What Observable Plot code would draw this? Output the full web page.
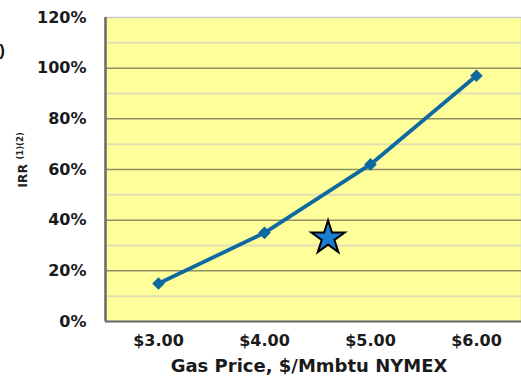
<!DOCTYPE html>
<html><head><meta charset="utf-8">
<script src="https://cdn.jsdelivr.net/npm/d3@7"></script>
<script src="https://cdn.jsdelivr.net/npm/@observablehq/plot@0.6"></script>
<style>body{margin:0;background:#fff}svg{display:block}</style>
</head><body><div id="chart"></div>
<script>
const prices = [3, 4, 5, 6];
const priceLabels = ["$3.00", "$4.00", "$5.00", "$6.00"];
const irr = [15, 35, 62, 97];
const starPrice = [4.6];
const starIrr = [33];
const yTicks = [0, 20, 40, 60, 80, 100, 120];
const yMinor = [10, 30, 50, 70, 90, 110];

const lineData = prices.map((p, i) => ({p, v: irr[i]}));
const starData = starPrice.map((p, i) => ({p, v: starIrr[i]}));
const font = "'DejaVu Sans', Arial, sans-serif";

const chart = Plot.plot({
  width: 521, height: 378,
  marginTop: 17, marginBottom: 57, marginLeft: 105, marginRight: 0,
  style: {fontFamily: font, fontSize: "16px", fontWeight: "bold", color: "#1a1a1a", background: "#fff"},
  x: {domain: [2.5, 6.425], axis: null},
  y: {domain: [0, 120], axis: null},
  marks: [
    Plot.frame({fill: "#feff9a", stroke: "#c8c8c8", strokeWidth: 1.5}),
    Plot.ruleY(yMinor, {stroke: "#dfdfb6", strokeWidth: 2}),
    Plot.ruleY(yTicks.filter(d => d > 0 && d < 120), {stroke: "#8e8e66", strokeWidth: 1.5}),
    Plot.ruleY([0], {stroke: "#6a6a6a", strokeWidth: 2}),
    Plot.ruleX([2.5], {stroke: "#6a6a6a", strokeWidth: 2.5}),
    Plot.axisY(yTicks, {tickSize: 0, tickPadding: 19, tickFormat: d => d + "%", fontSize: 16, fontWeight: "bold", label: null}),
    Plot.axisX(prices, {tickSize: 0, tickPadding: 13, tickFormat: (d, i) => priceLabels[i], fontSize: 16, fontWeight: "bold", label: null}),
    Plot.line(lineData, {x: "p", y: "v", stroke: "#0f69a1", strokeWidth: 3.8}),
    Plot.dot(lineData, {x: "p", y: "v", symbol: "square", rotate: 45, r: 4.2, fill: "#0f69a1", stroke: "#0f69a1"}),
    Plot.dot(starData, {x: "p", y: "v", symbol: "star", r: 10.5, fill: "#1a7fd2", stroke: "#000", strokeWidth: 2})
  ]
});
document.getElementById("chart").append(chart);

const svg = d3.select(chart);
// x axis title
svg.append("text").attr("x", 309).attr("y", 372).attr("text-anchor", "middle")
  .style("font-family", font).style("font-size", "18px").style("font-weight", "bold").attr("fill", "#1a1a1a")
  .text("Gas Price, $/Mmbtu NYMEX");
// y axis title
const yt = svg.append("text").attr("transform", "translate(27,160) rotate(-90)").attr("text-anchor", "middle")
  .style("font-family", font).style("font-weight", "bold").attr("fill", "#222");
yt.append("tspan").style("font-size", "12.5px").text("IRR ");
yt.append("tspan").style("font-size", "8.5px").attr("dy", "-4").text("(1)(2)");
// cropped fragment at left edge
svg.append("text").attr("x", 2).attr("y", 56)
  .style("font-family", "'Liberation Sans', Arial, sans-serif").style("font-size", "17px").style("font-weight", "bold").attr("fill", "#111").text(")");
</script></body></html>
